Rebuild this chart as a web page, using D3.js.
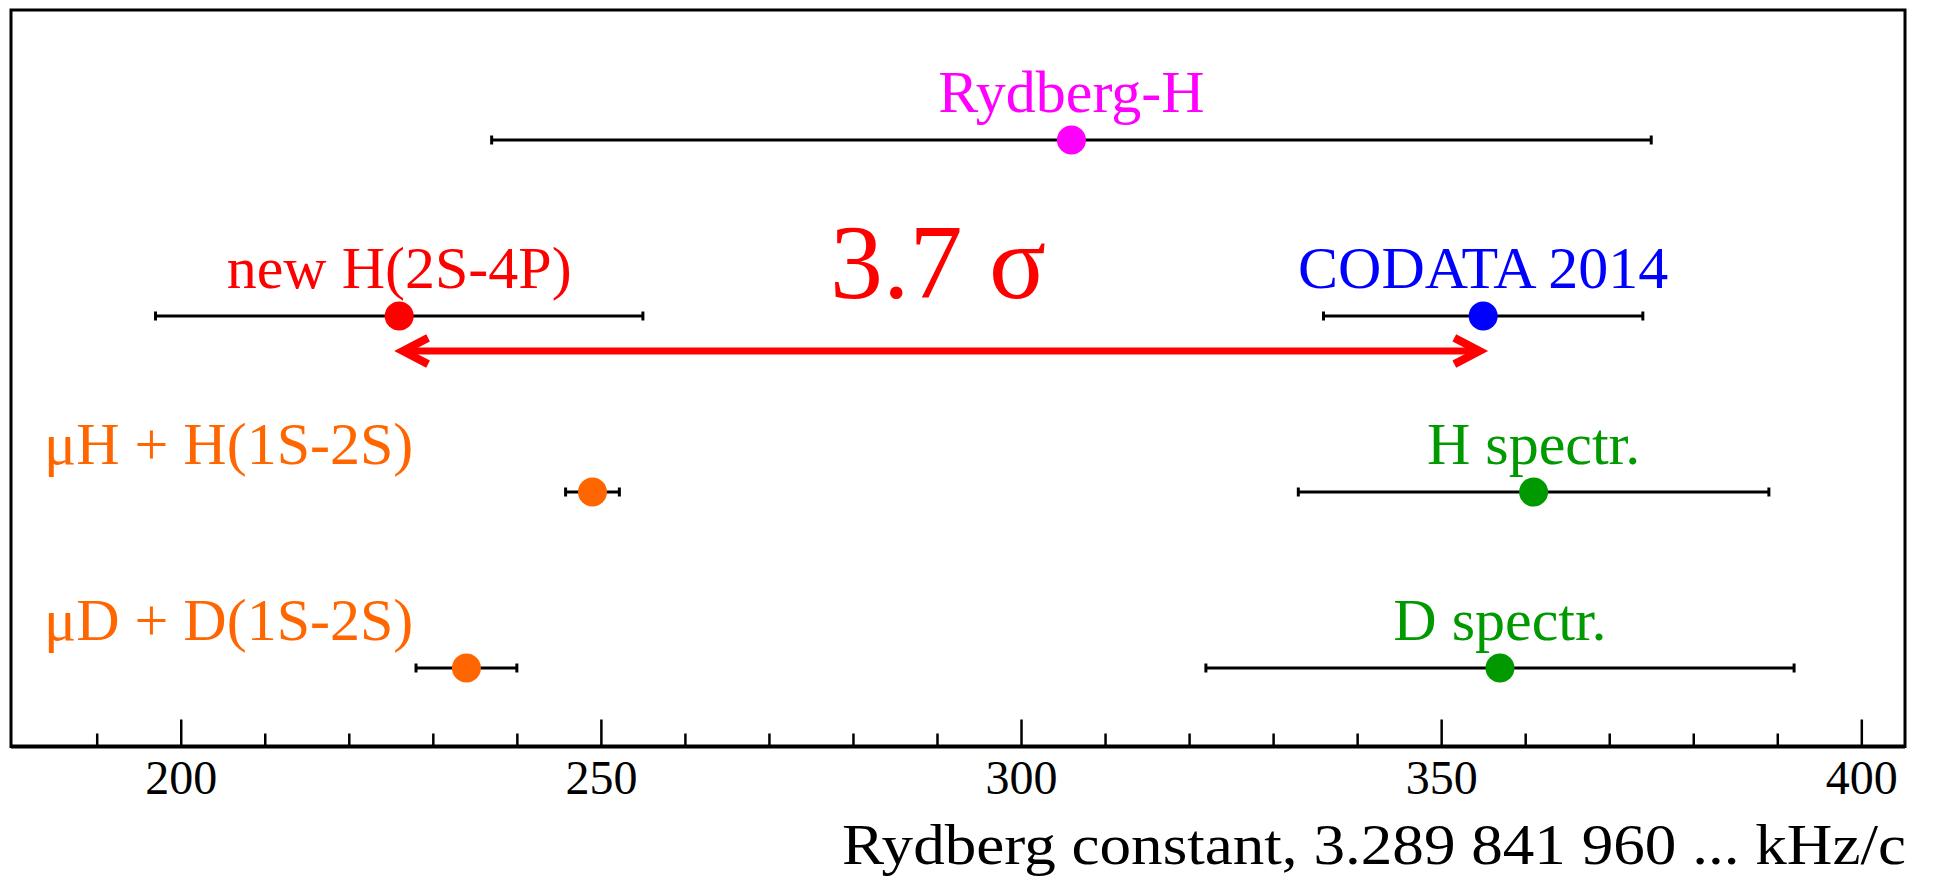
<!DOCTYPE html>
<html>
<head>
<meta charset="utf-8">
<script src="https://cdn.jsdelivr.net/npm/d3@7"></script>
<style>
  html, body { margin: 0; padding: 0; background: #ffffff; }
  svg { display: block; }
  text { font-family: "Liberation Serif", "Times New Roman", serif; }
</style>
</head>
<body>
<svg id="chart" width="1934" height="882"></svg>
<script>
// Rydberg constant determinations (last digits, kHz/c) with 1-sigma uncertainties
const categories = ["Rydberg-H", "new H(2S-4P)", "CODATA 2014", "μH + H(1S-2S)", "μD + D(1S-2S)", "H spectr.", "D spectr."];
const values = [306, 226, 355, 249, 234, 361, 357];
const uncertainties = [69, 29, 19, 3.2, 6, 28, 35];
const rowIndex = [0, 1, 1, 2, 3, 2, 3];
const seriesColors = ["#ff00ff", "#ff0000", "#0000ff", "#ff6600", "#ff6600", "#009900", "#009900"];
const labelSide = ["above", "above", "above", "left", "left", "above", "above"];

// discrepancy highlighted between the new measurement and CODATA 2014
const comparePair = [1, 2];
const sigmaText = "3.7 σ";

const majorTicks = [200, 250, 300, 350, 400];
const minorTicks = [190, 210, 220, 230, 240, 260, 270, 280, 290, 310, 320, 330, 340, 360, 370, 380, 390];
const xDomain = [179.8, 405.2];
const axisTitle = "Rydberg constant, 3.289 841 960 ... kHz/c";

// ---- layout ----
const frame = { left: 11, right: 1905, top: 10, bottom: 746.5 };
const svg = d3.select("#chart");

const x = d3.scaleLinear().domain(xDomain).range([frame.left, frame.right]);
const y = d3.scalePoint().domain([0, 1, 2, 3]).range([140, 668]);

const data = categories.map((name, i) => ({
  name, value: values[i], err: uncertainties[i], row: rowIndex[i],
  color: seriesColors[i], side: labelSide[i]
}));

// frame
svg.append("rect")
  .attr("x", frame.left).attr("y", frame.top)
  .attr("width", frame.right - frame.left).attr("height", frame.bottom - frame.top)
  .attr("fill", "none").attr("stroke", "#000").attr("stroke-width", 3);

// x axis: minor ticks, then labelled major ticks, all pointing inward
const axisG = svg.append("g").attr("transform", `translate(0,${frame.bottom})`);
const minorAxis = d3.axisBottom(x).tickValues(minorTicks).tickSizeInner(-13).tickSizeOuter(0).tickFormat("");
const majorAxis = d3.axisBottom(x).tickValues(majorTicks).tickSizeInner(-27).tickSizeOuter(0).tickPadding(13).tickFormat(d3.format("d"));
axisG.append("g").call(minorAxis);
axisG.append("g").call(majorAxis);
axisG.selectAll(".domain").remove();
axisG.selectAll(".tick line").attr("stroke", "#000").attr("stroke-width", 2.5);
axisG.selectAll(".tick text")
  .attr("fill", "#000")
  .style("font-family", '"Liberation Serif", serif')
  .style("font-size", "48px");
svg.append("line")
  .attr("x1", frame.left).attr("x2", frame.right)
  .attr("y1", frame.bottom).attr("y2", frame.bottom)
  .attr("stroke", "#000").attr("stroke-width", 4);

// axis title
svg.append("text")
  .attr("x", frame.right + 1).attr("y", 864)
  .attr("text-anchor", "end")
  .attr("textLength", 1064).attr("lengthAdjust", "spacingAndGlyphs")
  .style("font-size", "57px").attr("fill", "#000")
  .text(axisTitle);

// error bars
const bars = svg.append("g").selectAll("g").data(data).join("g");
bars.append("line")
  .attr("x1", d => x(d.value - d.err)).attr("x2", d => x(d.value + d.err))
  .attr("y1", d => y(d.row)).attr("y2", d => y(d.row))
  .attr("stroke", "#000").attr("stroke-width", 3);
[-1, 1].forEach(s => {
  bars.append("line")
    .attr("x1", d => x(d.value + s * d.err)).attr("x2", d => x(d.value + s * d.err))
    .attr("y1", d => y(d.row) - 4.5).attr("y2", d => y(d.row) + 4.5)
    .attr("stroke", "#000").attr("stroke-width", 3);
});

// comparison arrow between the two highlighted results
const a = data[comparePair[0]], b = data[comparePair[1]];
const arrowY = 351;
const tipOverhang = 5;
const notch = 17.3;
const head = [[0, 0], [32, -16.7], [35.7, -9.6], [notch, 0], [35.7, 9.6], [32, 16.7]];
const leftTip = x(a.value) - tipOverhang, rightTip = x(b.value) + tipOverhang;
const arrowG = svg.append("g");
arrowG.append("line")
  .attr("x1", leftTip + notch).attr("x2", rightTip - notch)
  .attr("y1", arrowY).attr("y2", arrowY)
  .attr("stroke", "#ff0000").attr("stroke-width", 7);
arrowG.append("polygon")
  .attr("points", head.map(p => [leftTip + p[0], arrowY + p[1]].join(",")).join(" "))
  .attr("fill", "#ff0000");
arrowG.append("polygon")
  .attr("points", head.map(p => [rightTip - p[0], arrowY + p[1]].join(",")).join(" "))
  .attr("fill", "#ff0000");
svg.append("text")
  .attr("x", x((a.value + b.value) / 2) - 3).attr("y", 298)
  .attr("text-anchor", "middle")
  .style("font-size", "106px").attr("fill", "#ff0000")
  .text(sigmaText);

// points
svg.append("g").selectAll("circle").data(data).join("circle")
  .attr("cx", d => x(d.value)).attr("cy", d => y(d.row))
  .attr("r", 14.5).attr("fill", d => d.color);

// series labels
svg.append("g").selectAll("text").data(data).join("text")
  .attr("x", d => d.side === "left" ? frame.left + 33 : x(d.value))
  .attr("y", d => y(d.row) - 28)
  .attr("text-anchor", d => d.side === "left" ? "start" : "middle")
  .style("font-size", "60px")
  .attr("fill", d => d.color)
  .text(d => d.name);
</script>
</body>
</html>
